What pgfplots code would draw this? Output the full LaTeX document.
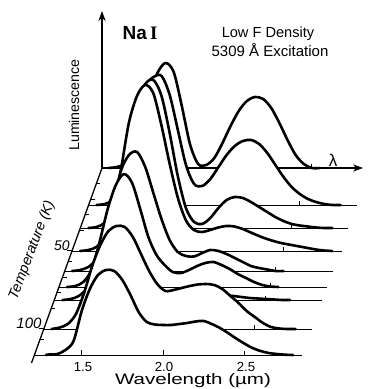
\documentclass[border=0pt]{standalone}
\usepackage{pgfplots}
\pgfplotsset{compat=1.18}
\usepackage{pgfplotstable}
\usepackage{fontspec}
\setmainfont{Liberation Sans}
\newfontfamily\seriffont{Liberation Serif}
\usetikzlibrary{arrows.meta}

% luminescence (arb. units) vs wavelength (um), one table per temperature (A = lowest T ... I = highest T)
\pgfplotstableread{
lam L
1.25 0
1.30 1
1.35 4
1.40 14
1.45 40
1.50 72
1.55 95
1.60 105
1.65 96
1.70 62
1.75 24
1.80 4
1.85 3
1.90 10
1.95 25
2.00 42
2.05 57
2.10 67
2.15 71
2.20 69
2.25 60
2.30 45
2.35 28
2.40 13
2.45 4
2.50 0
2.55 0
}\dA
\pgfplotstableread{
lam L
1.25 0
1.30 1
1.35 5
1.40 18
1.45 50
1.50 90
1.55 118
1.60 128
1.65 129
1.70 110
1.75 75
1.80 40
1.85 21
1.90 19
1.95 26
2.00 38
2.05 50
2.10 59
2.15 64
2.20 65
2.25 61
2.30 52
2.35 40
2.40 28
2.45 18
2.50 11
2.55 6
2.60 3
2.65 1
2.70 0
2.75 0
}\dB
\pgfplotstableread{
lam L
1.25 0
1.30 1
1.35 5
1.40 16
1.45 45
1.50 88
1.55 125
1.60 144
1.65 148
1.70 132
1.75 95
1.80 52
1.85 20
1.90 6
1.95 4
2.00 10
2.05 20
2.10 28
2.15 31
2.20 30
2.25 26
2.30 21
2.35 16
2.40 11
2.45 7
2.50 4
2.55 2.5
2.60 1.5
2.65 0.5
2.70 0
2.75 0
}\dC
\pgfplotstableread{
lam L
1.25 0
1.30 1
1.35 4
1.40 14
1.45 40
1.50 80
1.55 128
1.60 155
1.65 166
1.70 158
1.75 126
1.80 88
1.85 54
1.90 31
1.95 21
2.00 19
2.05 21
2.10 23.5
2.15 25
2.20 24.5
2.25 22
2.30 18.5
2.35 15
2.40 12
2.45 9.5
2.50 7.5
2.55 6
2.60 4.5
2.65 3
2.70 1.5
2.75 0.5
2.80 0
}\dD
\pgfplotstableread{
lam L
1.25 0
1.30 1
1.35 4
1.40 12
1.45 30
1.50 65
1.55 100
1.60 116
1.65 119
1.70 104
1.75 78
1.80 52
1.85 31
1.90 19
1.95 15
2.00 14.5
2.05 18
2.10 21
2.15 20
2.20 17
2.25 13
2.30 9
2.35 5
2.40 3
2.45 1.5
2.50 0
2.55 0
}\dE
\pgfplotstableread{
lam L
1.25 0
1.30 1
1.35 5
1.40 17
1.45 45
1.50 78
1.55 102
1.60 113
1.65 104
1.70 78
1.75 50
1.80 32
1.85 22
1.90 15
1.95 14
2.00 17
2.05 21
2.10 24
2.15 25
2.20 22
2.25 18
2.30 13
2.35 9
2.40 5
2.45 2
2.50 0.5
2.55 0
}\dF
\pgfplotstableread{
lam L
1.25 0
1.30 1
1.35 4
1.40 12
1.45 30
1.50 48
1.55 60
1.60 65
1.65 60
1.70 46
1.75 28
1.80 14
1.85 7
1.90 5
1.95 6
2.00 7
2.05 8
2.10 9
2.15 9
2.20 8
2.25 5
2.30 4
2.35 3
2.40 2
2.45 1.5
2.50 1
2.55 0.5
2.60 0
2.65 0
}\dG
\pgfplotstableread{
lam L
1.25 0
1.30 1.5
1.35 5
1.40 15
1.45 36
1.50 63
1.55 84
1.60 98
1.65 103
1.70 102
1.75 92
1.80 75
1.85 58
1.90 45
1.95 38
2.00 39
2.05 41
2.10 43
2.15 44.5
2.20 45
2.25 44
2.30 40
2.35 33
2.40 26
2.45 18
2.50 12
2.55 6
2.60 2
2.65 0.5
2.70 0
2.75 0
}\dH
\pgfplotstableread{
lam L
1.28 0
1.30 0.5
1.35 1
1.40 5
1.45 14
1.50 44
1.55 66
1.60 80
1.65 85
1.70 84
1.75 75
1.80 60
1.85 43
1.90 33
1.95 30.5
2.00 30
2.05 30
2.10 31
2.15 32
2.20 33.5
2.25 34
2.30 31
2.35 27
2.40 22
2.45 16.5
2.50 11.5
2.55 7
2.60 4
2.65 2
2.70 1
2.75 0.3
2.80 0
}\dI

\pgfplotsset{
  fillst/.style={fill=white, draw=none, smooth, tension=0.5},
  curvest/.style={black, line width=1.3pt, smooth, tension=0.5, line join=round, line cap=round},
  basest/.style={black, line width=0.45pt},
}
% #1 table, #2 x shift, #3 y offset, #4 baseline start, #5 baseline end, #6 tick x
\newcommand{\wcurve}[6]{%
  \addplot[fillst] table[x expr=\thisrow{lam}+#2, y expr=\thisrow{L}+#3] {#1} -- cycle;
  \addplot[basest] coordinates {(#4,#3) (#5,#3)};
  \addplot[basest] coordinates {(#6,#3) (#6,#3+4)};
  \addplot[curvest] table[x expr=\thisrow{lam}+#2, y expr=\thisrow{L}+#3] {#1};
}

\begin{document}
\begin{tikzpicture}
\begin{axis}[name=ax, scale only axis, width=184.5pt, height=194.5pt,
  xmin=0.99754, xmax=3.26693, ymin=-34, ymax=355, hide axis, clip=false]
  % back (lowest temperature) to front (highest temperature)
  \addplot[fillst] table[x expr=\thisrow{lam}+0.4157, y expr=\thisrow{L}+187] {\dA} -- cycle;
  \addplot[black, line width=0.55pt, -{Stealth[length=5pt,width=3.6pt]}] coordinates {(1.6249,187) (3.2300,187)};
  \addplot[basest] coordinates {(2.9157,187) (2.9157,191)};
  \addplot[curvest] table[x expr=\thisrow{lam}+0.4157, y expr=\thisrow{L}+187] {\dA};
  \wcurve{\dB}{0.3413}{150}{1.5431}{3.1932}{2.8413}
  \wcurve{\dC}{0.2909}{127}{1.4920}{3.1378}{2.7909}
  \wcurve{\dD}{0.2399}{104}{1.4410}{3.1009}{2.7399}
  \wcurve{\dE}{0.1907}{84}{1.3967}{3.0455}{2.6907}
  \wcurve{\dF}{0.1599}{68}{1.3616}{3.0086}{2.6599}
  \wcurve{\dG}{0.1322}{55}{1.3327}{2.9779}{2.6322}
  \wcurve{\dH}{0.0646}{26}{1.2681}{2.9164}{2.5646}
  \wcurve{\dI}{0}{0}{1.2110}{2.8549}{2.5}
  \addplot[basest] coordinates {(1.5,0) (1.5,5)};
  \addplot[basest] coordinates {(2.0,0) (2.0,5)};
\end{axis}
\begin{scope}[shift={(ax.north west)}, x=0.5pt, y=-0.5pt]
  % luminescence axis
  \draw[line width=0.65pt, -{Stealth[length=5pt,width=3.6pt]}] (102,168) -- (102,11);
  % temperature axis
  \draw[line width=0.65pt] (31.5,363) -- (102,168);
  \foreach \yy in {183.6,199.2,214.8,230.4,261.6,277.2,292.8,308.4,339.6}
    \draw[line width=0.45pt] ({102-0.36*(\yy-168)},\yy) -- ++(4,0);
  \draw[line width=0.5pt] ({102-0.36*(251-168)-5},251) -- ({102-0.36*(251-168)},251);
  \draw[line width=0.5pt] ({102-0.36*(329-168)-5},329) -- ({102-0.36*(329-168)},329);
  \node[font=\fontsize{9.5}{11}\selectfont\bfseries] at (140,33) {Na\,{\seriffont I}};
  \node[font=\fontsize{7.3}{8}\selectfont] at (268,34) {Low F Density};
  \node[font=\fontsize{7.5}{8}\selectfont] at (270,50) {5309 Å Excitation};
  \node[font=\fontsize{7.1}{8}\selectfont, rotate=90] at (74,105) {Luminescence};
  \node[font=\fontsize{8.5}{9}\selectfont] at (333,160) {λ};
  \node[font=\fontsize{7.2}{8}\selectfont\itshape, rotate=69] at (32,250) {Temperature (K)};
  \node[font=\fontsize{7}{8}\selectfont\itshape] at (62,246) {50};
  \node[font=\fontsize{7.5}{8}\selectfont\itshape] at (29,323) {100};
  \node[font=\fontsize{6.6}{8}\selectfont] at (83,367) {1.5};
  \node[font=\fontsize{6.6}{8}\selectfont] at (164,367) {2.0};
  \node[font=\fontsize{6.6}{8}\selectfont] at (246,367) {2.5};
  \node[font=\fontsize{7.6}{8}\selectfont] at (193,381) {\scalebox{1.35}[1]{Wavelength (µm)}};
\end{scope}
\pgfresetboundingbox
\path (ax.south west) rectangle (ax.north east);
\end{tikzpicture}
\end{document}
